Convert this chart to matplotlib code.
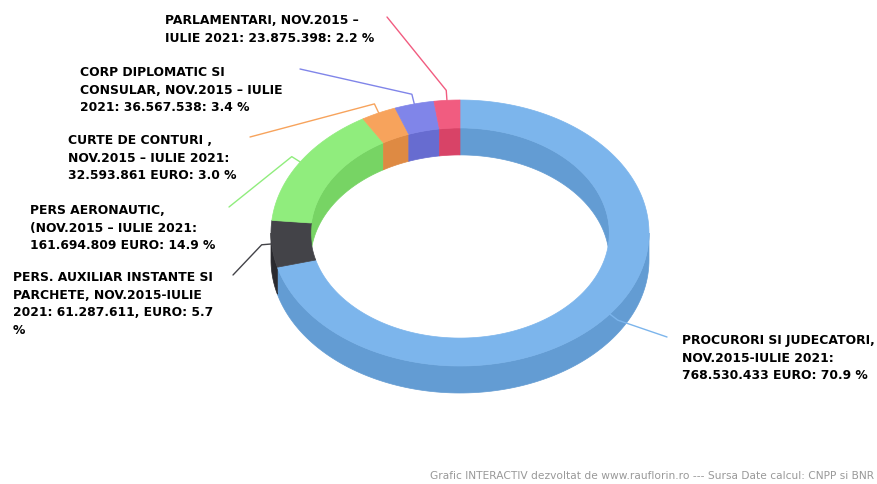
import numpy as np
import matplotlib
matplotlib.use("Agg")
import matplotlib.pyplot as plt
from matplotlib.patches import Polygon
from matplotlib import colors as mcolors

# ---------------- data ----------------
categories = ["PROCURORI SI JUDECATORI", "PERS. AUXILIAR INSTANTE SI PARCHETE",
              "PERS AERONAUTIC", "CURTE DE CONTURI", "CORP DIPLOMATIC SI CONSULAR",
              "PARLAMENTARI"]
values = [768530433, 61287611, 161694809, 32593861, 36567538, 23875398]
slice_colors = ["#7cb5ec", "#434348", "#90ed7d", "#f7a35c", "#8085e9", "#f15c80"]
label_lines = [
    ["PROCURORI SI JUDECATORI,", "NOV.2015-IULIE 2021:", "768.530.433 EURO: 70.9 %"],
    ["PERS. AUXILIAR INSTANTE SI", "PARCHETE, NOV.2015-IULIE", "2021: 61.287.611, EURO: 5.7", "%"],
    ["PERS AERONAUTIC,", "(NOV.2015 \u2013 IULIE 2021:", "161.694.809 EURO: 14.9 %"],
    ["CURTE DE CONTURI ,", "NOV.2015 \u2013 IULIE 2021:", "32.593.861 EURO: 3.0 %"],
    ["CORP DIPLOMATIC SI", "CONSULAR, NOV.2015 \u2013 IULIE", "2021: 36.567.538: 3.4 %"],
    ["PARLAMENTARI, NOV.2015 \u2013", "IULIE 2021: 23.875.398: 2.2 %"],
]
footer = "Grafic INTERACTIV dezvoltat de www.rauflorin.ro --- Sursa Date calcul: CNPP si BNR"

# ---------------- layout ----------------
W, H = 877, 484
cx, cy = 460.0, 233.0
a_out, b_out = 189.0, 133.0
inner = 0.79
depth = 27.0

# label layout: (text x, first baseline y, connector end x, connector end y)
label_pos = [
    (682, 344, 667, 337),
    (13, 281, 233, 275),
    (30, 214, 229, 207),
    (68, 144, 250, 137),
    (80, 76, 300, 69),
    (165, 24, 387, 17),
]
line_pitch = 17.6


def darker(c, amt=25.5):
    r, g, b = [v * 255 for v in mcolors.to_rgb(c)]
    return tuple(max(0, v - amt) / 255 for v in (r, g, b))


def ell(theta_deg, k, dy=0.0):
    t = np.radians(theta_deg)
    return np.column_stack([cx + k * a_out * np.cos(t), cy - k * b_out * np.sin(t) + dy])


def clip_range(t0, t1, lo, hi):
    """intersect [t0,t1] with [lo,hi]+360k"""
    out = []
    for k in range(-3, 4):
        l, h = lo + 360 * k, hi + 360 * k
        s, e = max(t0, l), min(t1, h)
        if e > s:
            out.append((s, e))
    return out


fig = plt.figure(figsize=(W / 100, H / 100), dpi=100)
ax = fig.add_axes([0, 0, 1, 1])
ax.set_xlim(0, W)
ax.set_ylim(H, 0)
ax.axis("off")

vals = np.array(values, dtype=float)
cum = np.concatenate([[0], np.cumsum(vals)]) / vals.sum()
th_start = 90 - 360 * cum[1:]   # smaller angle
th_end = 90 - 360 * cum[:-1]

# inner walls (far side)
for i in range(len(vals)):
    for s, e in clip_range(th_start[i], th_end[i], 0, 180):
        tt = np.linspace(s, e, 80)
        top = ell(tt, inner)
        bot = ell(tt[::-1], inner, depth)
        col = darker(slice_colors[i])
        ax.add_patch(Polygon(np.vstack([top, bot]), closed=True, fc=col, ec=col, lw=0.5, zorder=1))

# outer walls (near side)
for i in range(len(vals)):
    for s, e in clip_range(th_start[i], th_end[i], -180, 0):
        tt = np.linspace(s, e, 120)
        top = ell(tt, 1.0)
        bot = ell(tt[::-1], 1.0, depth)
        col = darker(slice_colors[i])
        ax.add_patch(Polygon(np.vstack([top, bot]), closed=True, fc=col, ec=col, lw=0.5, zorder=2))

# top faces
for i in range(len(vals)):
    tt = np.linspace(th_start[i], th_end[i], 200)
    outer = ell(tt, 1.0)
    inn = ell(tt[::-1], inner)
    col = slice_colors[i]
    ax.add_patch(Polygon(np.vstack([outer, inn]), closed=True, fc=col, ec=col, lw=0.5, zorder=3))

# connectors and labels
for i in range(len(vals)):
    mid = (th_start[i] + th_end[i]) / 2
    t = np.radians(mid)
    sx, sy = cx + a_out * np.cos(t), cy - b_out * np.sin(t)
    bx, by = sx + 10 * np.cos(t), sy - 10 * np.sin(t)
    tx, ty, ex, ey = label_pos[i]
    ax.plot([sx, bx, ex], [sy, by, ey], color=slice_colors[i], lw=1.0, zorder=4,
            solid_joinstyle="round", solid_capstyle="round")
    for j, line in enumerate(label_lines[i]):
        ax.text(tx, ty + j * line_pitch, line, fontsize=8.9, fontweight="bold",
                color="#000000", ha="left", va="baseline", zorder=5,
                family="DejaVu Sans")

ax.text(874, 479, footer, fontsize=7.7, color="#999999", ha="right", va="baseline",
        family="DejaVu Sans")

fig.savefig("out.png", dpi=100)
